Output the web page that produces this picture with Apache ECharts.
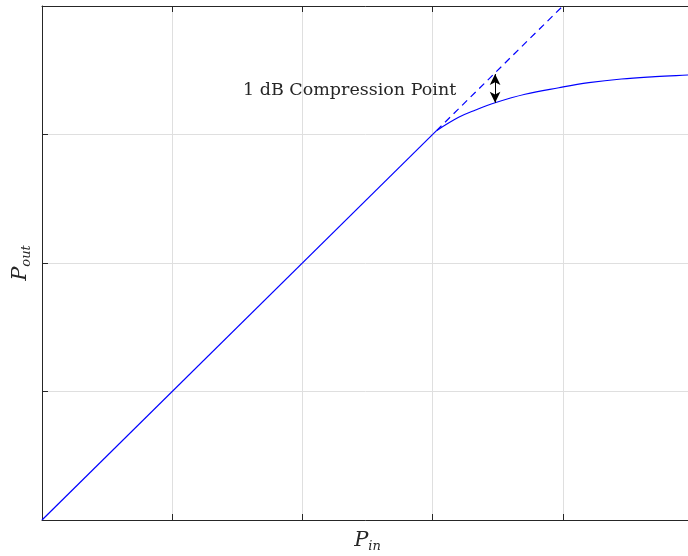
<!DOCTYPE html>
<html>
<head>
<meta charset="utf-8">
<script src="https://cdn.jsdelivr.net/npm/echarts@6/dist/echarts.min.js"></script>
<style>
  html,body{margin:0;padding:0;background:#fff;}
  #chart{width:688px;height:556px;}
</style>
</head>
<body>
<div id="chart"></div>
<script>
  // values (Pin, Pout in grid units)
  var linearPart = [[0, 0], [3.03, 3.03]];
  var compressedPart = [[3.03, 3.03], [3.2, 3.134], [3.33, 3.191], [3.48, 3.247], [3.71, 3.313],
    [3.97, 3.364], [4.2, 3.403], [4.45, 3.432], [4.71, 3.45], [4.96, 3.463], [5, 3.465]];
  var idealPart = [[3.03, 3.03], [4, 4]];
  var arrowX = 3.48;
  var arrowTop = 3.47;
  var arrowBottom = 3.247;
  var labelText = '1 dB Compression Point';

  var serif = '"DejaVu Serif", "Liberation Serif", serif';
  var axisColor = '#262626';
  var gridColor = '#dfdfdf';

  var nameRich = {
    p: {fontFamily: serif, fontStyle: 'italic', fontSize: 21, lineHeight: 24, color: '#262626'},
    s: {fontFamily: serif, fontStyle: 'italic', fontSize: 13, lineHeight: 8, verticalAlign: 'bottom', color: '#262626'}
  };

  var chart = echarts.init(document.getElementById('chart'));
  var option = {
    animation: false,
    grid: {left: 42, right: -5, top: 6, bottom: 36, outerBoundsMode: 'none', containLabel: false},
    xAxis: [{
      type: 'value', min: 0, max: 5, interval: 1,
      name: '{p|P}{s|in}', nameLocation: 'middle', nameGap: 9,
      nameTextStyle: {rich: nameRich},
      axisLine: {onZero: false, lineStyle: {color: axisColor, width: 1}},
      axisTick: {inside: true, length: 6, lineStyle: {color: axisColor}},
      axisLabel: {show: false},
      splitLine: {show: true, lineStyle: {color: gridColor}}
    }, {
      type: 'value', min: 0, max: 5, interval: 1, position: 'top',
      axisLine: {show: true, onZero: false, lineStyle: {color: axisColor, width: 1}},
      axisTick: {show: true, inside: true, length: 6, lineStyle: {color: axisColor}},
      axisLabel: {show: false},
      splitLine: {show: false}
    }],
    yAxis: {
      type: 'value', min: 0, max: 4, interval: 1,
      name: '{p|P}{s|out}', nameLocation: 'middle', nameGap: 9,
      nameTextStyle: {rich: nameRich},
      axisLine: {show: true, onZero: false, lineStyle: {color: axisColor, width: 1}},
      axisTick: {show: true, inside: true, length: 6, lineStyle: {color: axisColor}},
      axisLabel: {show: false},
      splitLine: {show: true, lineStyle: {color: gridColor}}
    },
    series: [{
      type: 'line', data: linearPart, symbol: 'none',
      lineStyle: {color: '#0000ff', width: 1.2}
    }, {
      type: 'line', data: compressedPart, symbol: 'none', smooth: 0.4,
      lineStyle: {color: '#0000ff', width: 1.2}
    }, {
      type: 'line', data: idealPart, symbol: 'none',
      lineStyle: {color: '#0000ff', width: 1.2, type: [7, 5]},
      markLine: {
        silent: true,
        symbol: ['arrow', 'arrow'],
        symbolSize: [8, 11],
        label: {show: false},
        lineStyle: {color: '#000', width: 1, type: 'solid'},
        data: [[{coord: [arrowX, arrowTop]}, {coord: [arrowX, arrowBottom]}]]
      }
    }],
    graphic: [{
      type: 'text', left: 243, top: 81,
      style: {text: labelText, fontFamily: serif, fontSize: 17.5, fill: '#262626'}
    }]
  };
  chart.setOption(option);
</script>
</body>
</html>
